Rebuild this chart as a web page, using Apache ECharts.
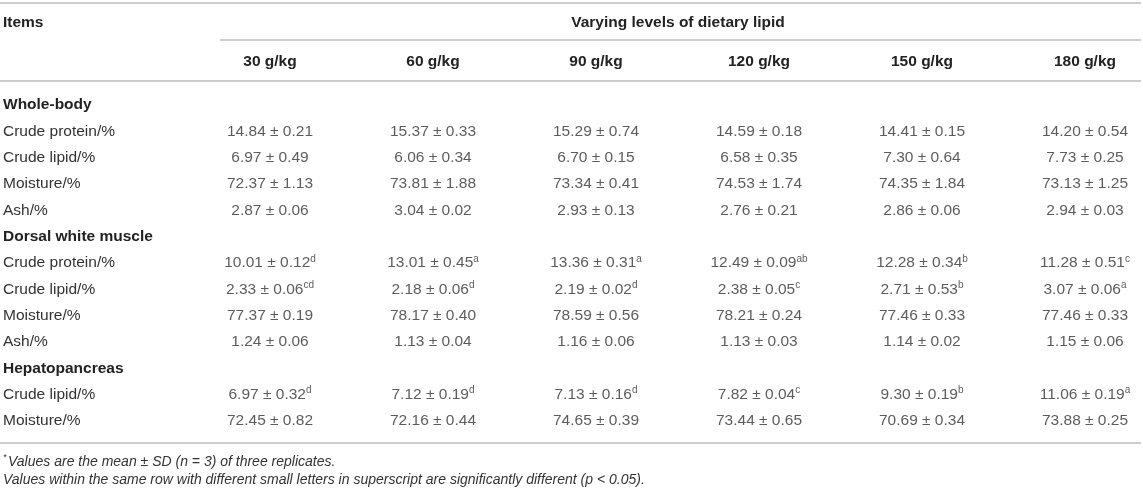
<!DOCTYPE html>
<html>
<head>
    <meta charset="UTF-8">
    <title>Varying levels of dietary lipid</title>
    <style>
        body, html {
            margin: 0;
            padding: 0;
            background: #fff;
        }
        #container {
            width: 1143px;
            height: 492px;
        }
    </style>
</head>
<body>
<div id="container"></div>

<script src="https://cdn.jsdelivr.net/npm/echarts@6/dist/echarts.min.js"></script>
<script>
    var FONT = '"Liberation Sans", Arial, Helvetica, sans-serif';

    // column headers (dietary lipid levels)
    var levels = ['30 g/kg', '60 g/kg', '90 g/kg', '120 g/kg', '150 g/kg', '180 g/kg'];

    // row labels, top to bottom
    var rowNames = ['Whole-body', 'Crude protein/%', 'Crude lipid/%', 'Moisture/%', 'Ash/%',
        'Dorsal white muscle', 'Crude protein/%', 'Crude lipid/%', 'Moisture/%', 'Ash/%',
        'Hepatopancreas', 'Crude lipid/%', 'Moisture/%'];
    var sectionRows = [0, 5, 10];

    // mean values per row (null = section header row)
    var means = [
        null,
        [14.84, 15.37, 15.29, 14.59, 14.41, 14.20],
        [6.97, 6.06, 6.70, 6.58, 7.30, 7.73],
        [72.37, 73.81, 73.34, 74.53, 74.35, 73.13],
        [2.87, 3.04, 2.93, 2.76, 2.86, 2.94],
        null,
        [10.01, 13.01, 13.36, 12.49, 12.28, 11.28],
        [2.33, 2.18, 2.19, 2.38, 2.71, 3.07],
        [77.37, 78.17, 78.59, 78.21, 77.46, 77.46],
        [1.24, 1.13, 1.16, 1.13, 1.14, 1.15],
        null,
        [6.97, 7.12, 7.13, 7.82, 9.30, 11.06],
        [72.45, 72.16, 74.65, 73.44, 70.69, 73.88]
    ];

    // standard deviations
    var sds = [
        null,
        [0.21, 0.33, 0.74, 0.18, 0.15, 0.54],
        [0.49, 0.34, 0.15, 0.35, 0.64, 0.25],
        [1.13, 1.88, 0.41, 1.74, 1.84, 1.25],
        [0.06, 0.02, 0.13, 0.21, 0.06, 0.03],
        null,
        [0.12, 0.45, 0.31, 0.09, 0.34, 0.51],
        [0.06, 0.06, 0.02, 0.05, 0.53, 0.06],
        [0.19, 0.40, 0.56, 0.24, 0.33, 0.33],
        [0.06, 0.04, 0.06, 0.03, 0.02, 0.06],
        null,
        [0.32, 0.19, 0.16, 0.04, 0.19, 0.19],
        [0.82, 0.44, 0.39, 0.65, 0.34, 0.25]
    ];

    // significance letters (superscripts)
    var letters = [
        null, null, null, null, null,
        null,
        ['d', 'a', 'a', 'ab', 'b', 'c'],
        ['cd', 'd', 'd', 'c', 'b', 'a'],
        null, null,
        null,
        ['d', 'd', 'd', 'c', 'b', 'a'],
        null
    ];

    var cells = [];
    for (var r = 0; r < rowNames.length; r++) {
        if (!means[r]) continue;
        for (var c = 0; c < levels.length; c++) {
            cells.push([c, r, means[r][c], sds[r][c], letters[r] ? letters[r][c] : '']);
        }
    }

    var chart = echarts.init(document.getElementById('container'));
    var lineStyle = {stroke: '#bdbdbd', lineWidth: 1.5};

    var option = {
        backgroundColor: '#fff',
        animation: false,
        textStyle: {fontFamily: FONT},
        grid: {left: 270, right: 58, top: 105, bottom: 71},
        xAxis: {
            type: 'category',
            data: levels,
            position: 'top',
            boundaryGap: false,
            axisLine: {show: false},
            axisTick: {show: false},
            splitLine: {show: false},
            axisLabel: {
                interval: 0,
                margin: 43,
                verticalAlign: 'middle',
                fontFamily: FONT,
                fontSize: 15.5,
                fontWeight: 'bold',
                color: '#222'
            }
        },
        yAxis: {
            type: 'category',
            data: rowNames,
            inverse: true,
            boundaryGap: false,
            axisLine: {show: false},
            axisTick: {show: false},
            splitLine: {show: false},
            axisLabel: {
                interval: 0,
                align: 'left',
                margin: 267,
                formatter: function (v, i) {
                    return sectionRows.indexOf(i) >= 0 ? '{h|' + v + '}' : '{n|' + v + '}';
                },
                rich: {
                    h: {fontFamily: FONT, fontSize: 15.5, fontWeight: 'bold', color: '#222'},
                    n: {fontFamily: FONT, fontSize: 15.5, color: '#333'}
                }
            }
        },
        series: [{
            type: 'scatter',
            symbolSize: 1,
            itemStyle: {color: 'rgba(0,0,0,0)'},
            data: cells,
            label: {
                show: true,
                position: 'inside',
                formatter: function (p) {
                    var d = p.data;
                    var s = '{v|' + d[2].toFixed(2) + ' \u00b1 ' + d[3].toFixed(2) + '}';
                    if (d[4]) s += '{s|' + d[4] + '}';
                    return s;
                },
                rich: {
                    v: {fontFamily: FONT, fontSize: 15.5, color: '#333', lineHeight: 18},
                    s: {fontFamily: FONT, fontSize: 10, color: '#333', verticalAlign: 'top', lineHeight: 18, padding: [0, 0, 6, 0]}
                }
            }
        }],
        graphic: [
            {type: 'line', shape: {x1: 0, y1: 3, x2: 1141, y2: 3}, style: lineStyle},
            {type: 'line', shape: {x1: 220, y1: 40, x2: 1141, y2: 40}, style: lineStyle},
            {type: 'line', shape: {x1: 0, y1: 81, x2: 1141, y2: 81}, style: lineStyle},
            {type: 'line', shape: {x1: 0, y1: 443, x2: 1141, y2: 443}, style: lineStyle},
            {type: 'text', x: 3, y: 23, style: {
                text: 'Items', font: 'bold 15.5px ' + FONT, fill: '#222', verticalAlign: 'middle'}},
            {type: 'text', x: 678, y: 23, style: {
                text: 'Varying levels of dietary lipid', font: 'bold 15.5px ' + FONT, fill: '#222',
                align: 'center', verticalAlign: 'middle'}},
            {type: 'text', x: 3, y: 457, style: {
                text: '*', font: 'italic 9px ' + FONT, fill: '#333', verticalAlign: 'middle'}},
            {type: 'text', x: 8, y: 462, style: {
                text: 'Values are the mean \u00b1 SD (n = 3) of three replicates.',
                font: 'italic 14px ' + FONT, fill: '#333', verticalAlign: 'middle'}},
            {type: 'text', x: 3, y: 480, style: {
                text: 'Values within the same row with different small letters in superscript are significantly different (p < 0.05).',
                font: 'italic 14px ' + FONT, fill: '#333', verticalAlign: 'middle'}}
        ]
    };

    chart.setOption(option);
</script>
</body>
</html>
